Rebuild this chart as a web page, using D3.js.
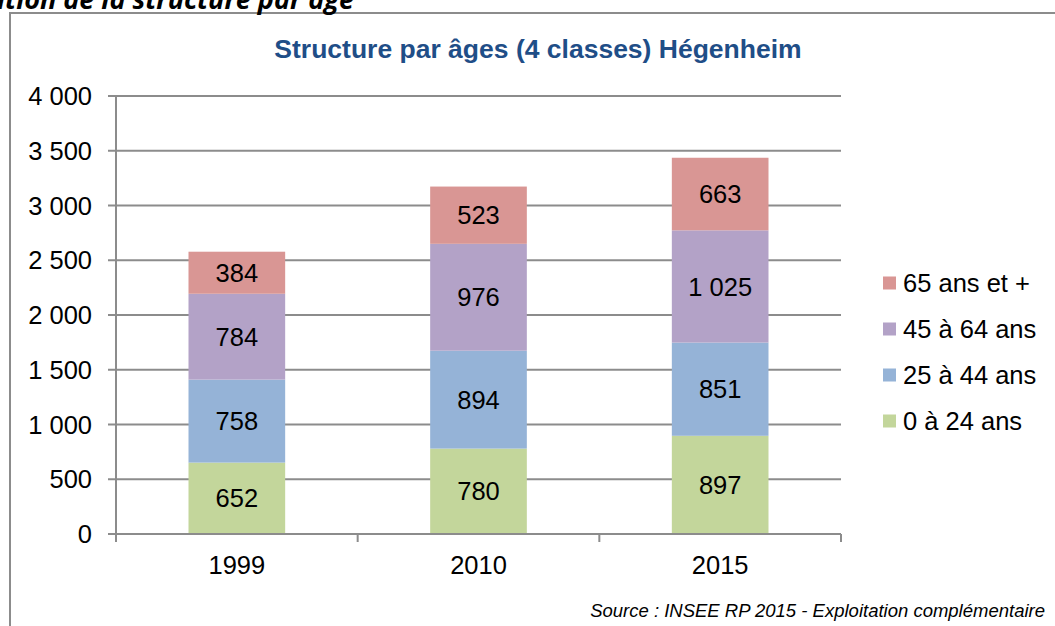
<!DOCTYPE html>
<html>
<head>
<meta charset="utf-8">
<script src="https://cdn.jsdelivr.net/npm/d3@7"></script>
<style>
  body { margin: 0; background: #fff; }
  text { font-family: "Liberation Sans", Arial, sans-serif; }
</style>
</head>
<body>
<div id="chart"></div>
<script>
// Data
var years = ["1999", "2010", "2015"];
var classes = ["0 à 24 ans", "25 à 44 ans", "45 à 64 ans", "65 ans et +"];
var age0_24 = [652, 780, 897];
var age25_44 = [758, 894, 851];
var age45_64 = [784, 976, 1025];
var age65plus = [384, 523, 663];
var yTicks = [0, 500, 1000, 1500, 2000, 2500, 3000, 3500, 4000];
var colors = ["#c3d69b", "#95b3d7", "#b3a2c7", "#d99694"];

var W = 1055, H = 626;
var margin = { top: 96, left: 116, right: 214, bottom: 92 },
    width = W - margin.left - margin.right,
    height = H - margin.top - margin.bottom;

var fr = d3.formatLocale({ decimal: ",", thousands: " ", grouping: [3], currency: ["", " €"] });
var fmt = fr.format(",d");

var svg = d3.select("#chart")
    .append("svg")
    .attr("width", W)
    .attr("height", H);

// outer frame (cut off on the right and bottom)
svg.append("rect")
    .attr("x", 10).attr("y", 13)
    .attr("width", W + 20).attr("height", H + 20)
    .attr("fill", "none")
    .attr("stroke", "#8c8c8c")
    .attr("stroke-width", 2);

// heading of the document, cut off at the top
svg.append("text")
    .attr("x", 354).attr("y", 9)
    .attr("text-anchor", "end")
    .style("font-family", "'Open Sans', sans-serif")
    .style("font-weight", "bold")
    .style("font-style", "italic")
    .style("font-size", "27px")
    .attr("fill", "#000")
    .text("Evolution de la structure par âge");

// title
svg.append("text")
    .attr("x", 538).attr("y", 58)
    .attr("text-anchor", "middle")
    .style("font-weight", "bold")
    .style("font-size", "26.5px")
    .attr("fill", "#1f4e87")
    .text("Structure par âges (4 classes) Hégenheim");

var g = svg.append("g")
    .attr("transform", "translate(" + margin.left + "," + margin.top + ")");

var x = d3.scaleBand()
    .domain(years)
    .range([0, width])
    .paddingInner(0.6)
    .paddingOuter(0.3);

var y = d3.scaleLinear()
    .domain([0, 4000])
    .range([height, 0]);

// gridlines
g.selectAll(".grid")
    .data(yTicks)
    .enter()
    .append("line")
    .attr("x1", -8)
    .attr("x2", width)
    .attr("y1", function (d) { return y(d); })
    .attr("y2", function (d) { return y(d); })
    .attr("stroke", "#8c8c8c")
    .attr("stroke-width", 2);

// y labels
g.selectAll(".ylab")
    .data(yTicks)
    .enter()
    .append("text")
    .attr("x", -24)
    .attr("y", function (d) { return y(d); })
    .attr("dy", "0.36em")
    .attr("text-anchor", "end")
    .style("font-size", "25.5px")
    .attr("fill", "#000")
    .text(function (d) { return fmt(d); });

// stacked bars
var table = years.map(function (yr, i) {
    return { year: yr, a: age0_24[i], b: age25_44[i], c: age45_64[i], d: age65plus[i] };
});
var stack = d3.stack().keys(["a", "b", "c", "d"])(table);

var layer = g.selectAll(".layer")
    .data(stack)
    .enter()
    .append("g")
    .attr("fill", function (d, i) { return colors[i]; });

layer.selectAll("rect")
    .data(function (d) { return d; })
    .enter()
    .append("rect")
    .attr("x", function (d) { return x(d.data.year); })
    .attr("y", function (d) { return y(d[1]); })
    .attr("width", x.bandwidth())
    .attr("height", function (d) { return y(d[0]) - y(d[1]); });

layer.selectAll("text")
    .data(function (d) { return d; })
    .enter()
    .append("text")
    .attr("x", function (d) { return x(d.data.year) + x.bandwidth() / 2; })
    .attr("y", function (d) { return (y(d[0]) + y(d[1])) / 2; })
    .attr("dy", "0.36em")
    .attr("text-anchor", "middle")
    .style("font-size", "25.5px")
    .attr("fill", "#000")
    .text(function (d) { return fmt(d[1] - d[0]); });

// y axis line
g.append("line")
    .attr("x1", 0).attr("x2", 0)
    .attr("y1", 0).attr("y2", height + 8)
    .attr("stroke", "#8c8c8c")
    .attr("stroke-width", 2);

// x axis with ticks between categories
g.append("line")
    .attr("x1", -8).attr("x2", width)
    .attr("y1", height).attr("y2", height)
    .attr("stroke", "#8c8c8c")
    .attr("stroke-width", 2);

var step = x.step();
g.selectAll(".xtick")
    .data(years)
    .enter()
    .append("line")
    .attr("x1", function (d) { return x(d) + x.bandwidth() / 2 + step / 2; })
    .attr("x2", function (d) { return x(d) + x.bandwidth() / 2 + step / 2; })
    .attr("y1", height)
    .attr("y2", height + 8)
    .attr("stroke", "#8c8c8c")
    .attr("stroke-width", 2);

g.selectAll(".xlab")
    .data(years)
    .enter()
    .append("text")
    .attr("x", function (d) { return x(d) + x.bandwidth() / 2; })
    .attr("y", height + 40)
    .attr("text-anchor", "middle")
    .style("font-size", "25.5px")
    .attr("fill", "#000")
    .text(function (d) { return d; });

// legend (top class first)
var legendY = [283, 329, 375, 421];
var leg = svg.selectAll(".leg")
    .data(classes.slice().reverse())
    .enter()
    .append("g")
    .attr("transform", function (d, i) { return "translate(883," + legendY[i] + ")"; });

leg.append("rect")
    .attr("x", 0).attr("y", -6.5)
    .attr("width", 13).attr("height", 13)
    .attr("fill", function (d, i) { return colors[3 - i]; });

leg.append("text")
    .attr("x", 20)
    .attr("dy", "0.36em")
    .style("font-size", "25.5px")
    .attr("fill", "#000")
    .text(function (d) { return d; });

// source
svg.append("text")
    .attr("x", 1045).attr("y", 617)
    .attr("text-anchor", "end")
    .style("font-style", "italic")
    .style("font-size", "18.5px")
    .attr("fill", "#000")
    .text("Source : INSEE RP 2015 - Exploitation complémentaire");
</script>
</body>
</html>
